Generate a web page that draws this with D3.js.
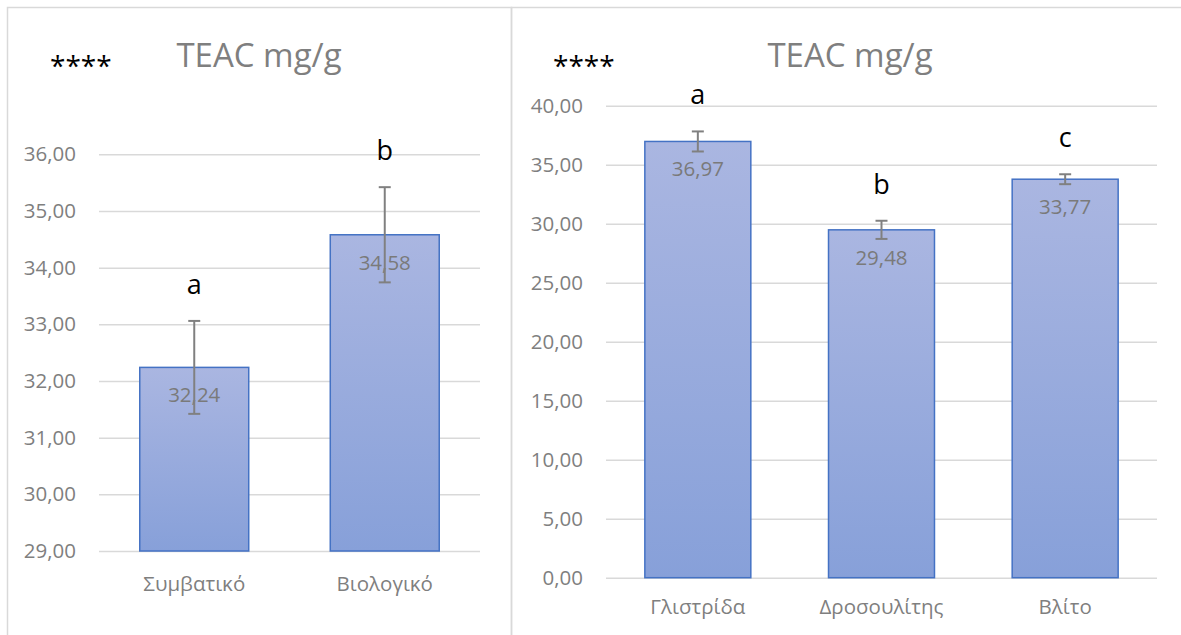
<!DOCTYPE html>
<html>
<head>
<meta charset="utf-8">
<script src="https://cdn.jsdelivr.net/npm/d3@7"></script>
<style>
  body { margin: 0; background: #fff; }
  svg { display: block; font-family: "Open Sans", "Noto Sans", sans-serif; }
</style>
</head>
<body>
<svg id="chart" width="1181" height="635"></svg>
<script>
//data - left chart
var leftCategories = ["Συμβατικό", "Βιολογικό"];
var leftValues = [32.24, 34.58];
var leftErrors = [0.82, 0.84];
var leftLetters = ["a", "b"];
var leftTicks = [29, 30, 31, 32, 33, 34, 35, 36];
//data - right chart
var rightCategories = ["Γλιστρίδα", "Δροσουλίτης", "Βλίτο"];
var rightValues = [36.97, 29.48, 33.77];
var rightErrors = [0.85, 0.77, 0.42];
var rightLetters = ["a", "b", "c"];
var rightTicks = [0, 5, 10, 15, 20, 25, 30, 35, 40];

var titleText = "TEAC mg/g";
var starsText = "****";

//greek number format: comma as decimal mark
var locale = d3.formatLocale({ decimal: ",", thousands: ".", grouping: [3], currency: ["", "€"] });
var fmt = locale.format(".2f");

var svg = d3.select("#chart");

// -- gradient for the bars
var defs = svg.append("defs");
var grad = defs.append("linearGradient")
  .attr("id", "barGrad")
  .attr("x1", 0).attr("y1", 0).attr("x2", 0).attr("y2", 1);
grad.append("stop").attr("offset", "0%").attr("stop-color", "#aab6e1");
grad.append("stop").attr("offset", "100%").attr("stop-color", "#87a0d9");

// -- panel frames
svg.append("rect")
  .attr("x", 7.5).attr("y", 7.5).attr("width", 504).attr("height", 700)
  .attr("fill", "none").attr("stroke", "#d9d9d9").attr("stroke-width", 1.5);
svg.append("rect")
  .attr("x", 511.5).attr("y", 7.5).attr("width", 700).attr("height", 700)
  .attr("fill", "none").attr("stroke", "#d9d9d9").attr("stroke-width", 1.5);

//draws one panel
function drawPanel(opt) {
  var x = d3.scaleBand()
    .domain(opt.categories)
    .range([opt.left, opt.right])
    .paddingInner(opt.pad)
    .paddingOuter(opt.pad / 2);
  var y = d3.scaleLinear()
    .domain([opt.ticks[0], opt.ticks[opt.ticks.length - 1]])
    .range([opt.bottom, opt.top]);

  // -- y axis + gridlines
  var yAxis = svg.append("g")
    .attr("transform", "translate(" + opt.left + ",0)")
    .call(d3.axisLeft(y)
      .tickValues(opt.ticks)
      .tickFormat(fmt)
      .tickSize(-(opt.right - opt.left))
      .tickPadding(23));
  yAxis.select(".domain").remove();
  yAxis.selectAll(".tick line").attr("stroke", "#d9d9d9").attr("stroke-width", 1.5);
  yAxis.selectAll(".tick text")
    .attr("fill", "#7f7f7f")
    .style("font-size", "20.5px")
    .style("font-family", "Open Sans");

  // -- x axis labels
  var xAxis = svg.append("g")
    .attr("transform", "translate(0," + opt.bottom + ")")
    .call(d3.axisBottom(x).tickSize(0).tickPadding(opt.xPad));
  xAxis.select(".domain").remove();
  xAxis.selectAll(".tick text")
    .attr("fill", "#7f7f7f")
    .style("font-size", "20.5px")
    .style("font-family", "Open Sans");

  var idx = d3.range(opt.categories.length);

  // -- bars
  svg.selectAll(null)
    .data(idx)
    .enter()
    .append("rect")
    .attr("x", function(i) { return x(opt.categories[i]); })
    .attr("y", function(i) { return y(opt.values[i]); })
    .attr("width", x.bandwidth())
    .attr("height", function(i) { return opt.bottom - y(opt.values[i]); })
    .attr("fill", "url(#barGrad)")
    .attr("stroke", "#4472c4")
    .attr("stroke-width", 1.5);

  // -- value labels
  svg.selectAll(null)
    .data(idx)
    .enter()
    .append("text")
    .attr("x", function(i) { return x(opt.categories[i]) + x.bandwidth() / 2; })
    .attr("y", function(i) { return y(opt.values[i]) + 35; })
    .attr("text-anchor", "middle")
    .attr("fill", "#7a7a7a")
    .style("font-size", "20.5px")
    .text(function(i) { return fmt(opt.values[i]); });

  // -- error bars
  var err = svg.selectAll(null)
    .data(idx)
    .enter()
    .append("g")
    .attr("stroke", "#808080")
    .attr("stroke-width", 2);
  err.append("line")
    .attr("x1", function(i) { return x(opt.categories[i]) + x.bandwidth() / 2; })
    .attr("x2", function(i) { return x(opt.categories[i]) + x.bandwidth() / 2; })
    .attr("y1", function(i) { return y(opt.values[i] + opt.errors[i]); })
    .attr("y2", function(i) { return y(opt.values[i] - opt.errors[i]); });
  [1, -1].forEach(function(s) {
    err.append("line")
      .attr("x1", function(i) { return x(opt.categories[i]) + x.bandwidth() / 2 - 6; })
      .attr("x2", function(i) { return x(opt.categories[i]) + x.bandwidth() / 2 + 6; })
      .attr("y1", function(i) { return y(opt.values[i] + s * opt.errors[i]); })
      .attr("y2", function(i) { return y(opt.values[i] + s * opt.errors[i]); });
  });

  // -- significance letters
  svg.selectAll(null)
    .data(idx)
    .enter()
    .append("text")
    .attr("x", function(i) { return x(opt.categories[i]) + x.bandwidth() / 2; })
    .attr("y", function(i) { return y(opt.values[i] + opt.errors[i]) - 27; })
    .attr("text-anchor", "middle")
    .attr("fill", "#000")
    .style("font-size", "27px")
    .text(function(i) { return opt.letters[i]; });

  // -- title and stars
  svg.append("text")
    .attr("x", opt.titleX).attr("y", 67)
    .attr("text-anchor", "middle")
    .attr("fill", "#7f7f7f")
    .style("font-size", "33px")
    .text(titleText);
  svg.append("text")
    .attr("x", opt.starsX).attr("y", 76)
    .attr("fill", "#000")
    .style("font-size", "28px")
    .text(starsText);
}

drawPanel({
  categories: leftCategories, values: leftValues, errors: leftErrors,
  letters: leftLetters, ticks: leftTicks,
  left: 99, right: 480, top: 154.3, bottom: 551, pad: 0.428, xPad: 25,
  titleX: 259, starsX: 50
});

drawPanel({
  categories: rightCategories, values: rightValues, errors: rightErrors,
  letters: rightLetters, ticks: rightTicks,
  left: 606, right: 1157, top: 105.7, bottom: 577.7, pad: 0.423, xPad: 22,
  titleX: 850, starsX: 553
});
</script>
</body>
</html>
